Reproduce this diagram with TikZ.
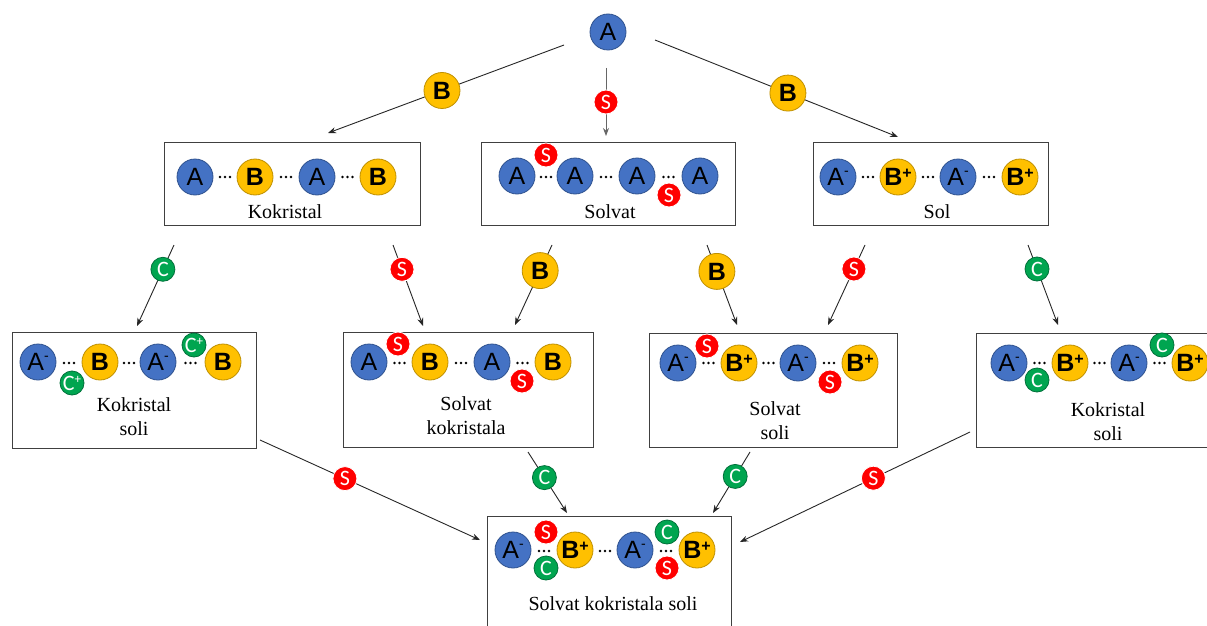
\documentclass[tikz,border=0pt]{standalone}
\usepackage{fontspec}
\setmainfont{Liberation Serif}
\newfontfamily\arialf{Liberation Sans}
\newfontfamily\calibf{Carlito}
\usetikzlibrary{arrows.meta}
\definecolor{cA}{HTML}{4472C4}
\definecolor{cAd}{HTML}{2F528F}
\definecolor{cB}{HTML}{FFC000}
\definecolor{cBd}{HTML}{BF9000}
\definecolor{cS}{HTML}{FF0000}
\definecolor{cC}{HTML}{00A550}
\definecolor{cCd}{HTML}{00703A}
\newcommand\Amin{A\raisebox{0.4em}{\fontsize{14}{14}\selectfont -}}
\newcommand\Bpl{B\raisebox{0.3em}{\fontsize{16}{16}\selectfont\bfseries +}}
\newcommand\Cpl{C\raisebox{0.3em}{\fontsize{13}{13}\selectfont +}}
\newcommand\tridots[2]{\foreach \dx in {-5,0,5}{\fill (#1+\dx,#2) circle (1.3pt);}}
\tikzset{
  balla/.style={circle, fill=cA, draw=cAd, line width=0.8pt, minimum size=36pt, inner sep=0pt, font=\arialf\fontsize{25}{25}\selectfont},
  ballb/.style={circle, fill=cB, draw=cBd, line width=0.8pt, minimum size=36pt, inner sep=0pt, font=\arialf\bfseries\fontsize{25}{25}\selectfont},
  balls/.style={circle, fill=cS, draw=white, line width=0.8pt, minimum size=24pt, inner sep=0pt, text=white, font=\calibf\fontsize{22}{22}\selectfont},
  ballc/.style={circle, fill=cC, draw=cCd, line width=0.8pt, minimum size=24pt, inner sep=0pt, text=white, font=\calibf\fontsize{22}{22}\selectfont},
  panel/.style={draw=black!75, line width=1pt, rectangle, inner sep=0pt},
  lbl/.style={font=\fontsize{20}{24}\selectfont, align=center, inner sep=0pt},
  arr/.style={draw=black!85, line width=0.9pt, -{Stealth[length=8pt,width=6pt]}},
}
\begin{document}
\begin{tikzpicture}[x=1pt,y=-1pt]
\useasboundingbox (0,0) rectangle (1207,626);
\clip (0,0) rectangle (1207,626);
\fill[white] (0,0) rectangle (1207,626);

% ---------- top
\node[balla] (top) at (608,32) {A};

% ---------- row 1 panels
\node[panel, minimum width=256pt, minimum height=83pt] (p1) at (292,183.5) {};
\node[panel, minimum width=254pt, minimum height=83pt] (p2) at (608,183.5) {};
\node[panel, minimum width=235pt, minimum height=83pt] (p3) at (930.5,183.5) {};

% Kokristal
\tridots{225}{177}\tridots{286}{177}\tridots{347.5}{177}
\node[balla] (p1a) at (195,177) {A};
\node[ballb] (p1b) at (255,177) {B};
\node[balla] (p1c) at (317,177) {A};
\node[ballb] (p1d) at (378,177) {B};
\node[lbl] (p1t) at (285,212) {Kokristal};

% Solvat
\tridots{546}{177}\tridots{606}{177}\tridots{668.5}{177}
\node[balla] (p2a) at (517,176) {A};
\node[balla] (p2b) at (575,176) {A};
\node[balla] (p2c) at (637,176) {A};
\node[balla] (p2d) at (700,176) {A};
\node[balls] (p2s1) at (546,155) {S};
\node[balls] (p2s2) at (669,195) {S};
\node[lbl] (p2t) at (610,212) {Solvat};

% Sol
\tridots{868}{177}\tridots{928}{177}\tridots{989}{177}
\node[balla] (p3a) at (838,177) {\Amin};
\node[ballb] (p3b) at (898,177) {\Bpl};
\node[balla] (p3c) at (958,177) {\Amin};
\node[ballb] (p3d) at (1020,177) {\Bpl};
\node[lbl] (p3t) at (937,212) {Sol};

% ---------- row 2 panels
\node[panel, minimum width=244pt, minimum height=116pt] (q1) at (134,390) {};
\node[panel, minimum width=250pt, minimum height=115pt] (q2) at (468,389.5) {};
\node[panel, minimum width=248pt, minimum height=114pt] (q3) at (773,390) {};
\node[panel, minimum width=264pt, minimum height=114pt] (q4) at (1108,390) {};

% Kokristal soli (left)
\tridots{69}{363}\tridots{129}{363}\tridots{190.5}{363}
\node[balla] (q1a) at (38,362) {\Amin};
\node[ballb] (q1b) at (100,362) {B};
\node[balla] (q1c) at (158,362) {\Amin};
\node[ballb] (q1d) at (223,362) {B};
\node[ballc] (q1c1) at (72,383) {\Cpl};
\node[ballc] (q1c2) at (194,345) {\Cpl};
\node[lbl] (q1t) at (134,417) {Kokristal\\soli};

% Solvat kokristala
\tridots{399.5}{363}\tridots{461}{363}\tridots{522.5}{363}
\node[balla] (q2a) at (369,362) {A};
\node[ballb] (q2b) at (430,362) {B};
\node[balla] (q2c) at (492,362) {A};
\node[ballb] (q2d) at (553,362) {B};
\node[balls] (q2s1) at (398,344) {S};
\node[balls] (q2s2) at (522,381) {S};
\node[lbl] (q2t) at (466,416) {Solvat\\kokristala};

% Solvat soli
\tridots{708.5}{363}\tridots{768.5}{363}\tridots{829}{363}
\node[balla] (q3a) at (678,363) {\Amin};
\node[ballb] (q3b) at (739,363) {\Bpl};
\node[balla] (q3c) at (798,363) {\Amin};
\node[ballb] (q3d) at (860,363) {\Bpl};
\node[balls] (q3s1) at (707,346) {S};
\node[balls] (q3s2) at (830,382) {S};
\node[lbl] (q3t) at (775,421) {Solvat\\soli};

% Kokristal soli (right)
\tridots{1039.5}{363}\tridots{1099.5}{363}\tridots{1159.5}{363}
\node[balla] (q4a) at (1009,363) {\Amin};
\node[ballb] (q4b) at (1070,363) {\Bpl};
\node[balla] (q4c) at (1129,363) {\Amin};
\node[ballb] (q4d) at (1190,363) {\Bpl};
\node[ballc] (q4c1) at (1037,380) {C};
\node[ballc] (q4c2) at (1162,345) {C};
\node[lbl] (q4t) at (1108,422) {Kokristal\\soli};

% ---------- bottom panel
\node[panel, minimum width=244pt, minimum height=134pt] (r) at (609,583) {};
\tridots{544}{551}\tridots{605}{551}\tridots{666}{551}
\node[balla] (ra) at (513,550) {\Amin};
\node[ballb] (rb) at (575,550) {\Bpl};
\node[balla] (rc) at (635,550) {\Amin};
\node[ballb] (rd) at (697,550) {\Bpl};
\node[balls] (rs1) at (546,532) {S};
\node[ballc] (rc1) at (546,568) {C};
\node[ballc] (rc2) at (667,532) {C};
\node[balls] (rs2) at (667,568) {S};
\node[lbl] (rt) at (613,604) {Solvat kokristala soli};

% ---------- connector end points
\coordinate (a1s) at (564,45);   \coordinate (a1e) at (328,133);
\coordinate (a2s) at (606,68);   \coordinate (a2e) at (606,136);
\coordinate (a3s) at (655,40);   \coordinate (a3e) at (898,137);
\coordinate (b1s) at (174,245);  \coordinate (b1e) at (137,326);
\coordinate (b2s) at (393,245);  \coordinate (b2e) at (423,326);
\coordinate (b3s) at (552,245);  \coordinate (b3e) at (515,325);
\coordinate (b4s) at (707,245);  \coordinate (b4e) at (737,325);
\coordinate (b5s) at (865,245);  \coordinate (b5e) at (828,325);
\coordinate (b6s) at (1028,245); \coordinate (b6e) at (1058,325);
\coordinate (c1s) at (260,440);  \coordinate (c1e) at (480,540);
\coordinate (c2s) at (528,452);  \coordinate (c2e) at (567,513);
\coordinate (c3s) at (750,452);  \coordinate (c3e) at (713,513);
\coordinate (c4s) at (970,432);  \coordinate (c4e) at (740,542);

% ---------- connectors with reagents
\draw[arr] (a1s) -- node[ballb, pos=0.517] (ra1) {B} (a1e);
\draw[arr, draw=black!60] (a2s) -- node[balls, pos=0.5] (ra2) {S} (a2e);
\draw[arr] (a3s) -- node[ballb, pos=0.547] (ra3) {B} (a3e);

\draw[arr] (b1s) -- node[ballc, pos=0.3] (rb1) {C} (b1e);
\draw[arr] (b2s) -- node[balls, pos=0.3] (rb2) {S} (b2e);
\draw[arr] (b3s) -- node[ballb, pos=0.32] (rb3) {B} (b3e);
\draw[arr] (b4s) -- node[ballb, pos=0.33] (rb4) {B} (b4e);
\draw[arr] (b5s) -- node[balls, pos=0.3] (rb5) {S} (b5e);
\draw[arr] (b6s) -- node[ballc, pos=0.3] (rb6) {C} (b6e);

\draw[arr] (c1s) -- node[balls, pos=0.386] (rc1a) {S} (c1e);
\draw[arr] (c2s) -- node[ballc, pos=0.42] (rc2a) {C} (c2e);
\draw[arr] (c3s) -- node[ballc, pos=0.4] (rc3a) {C} (c3e);
\draw[arr] (c4s) -- node[balls, pos=0.42] (rc4a) {S} (c4e);
\end{tikzpicture}
\end{document}
